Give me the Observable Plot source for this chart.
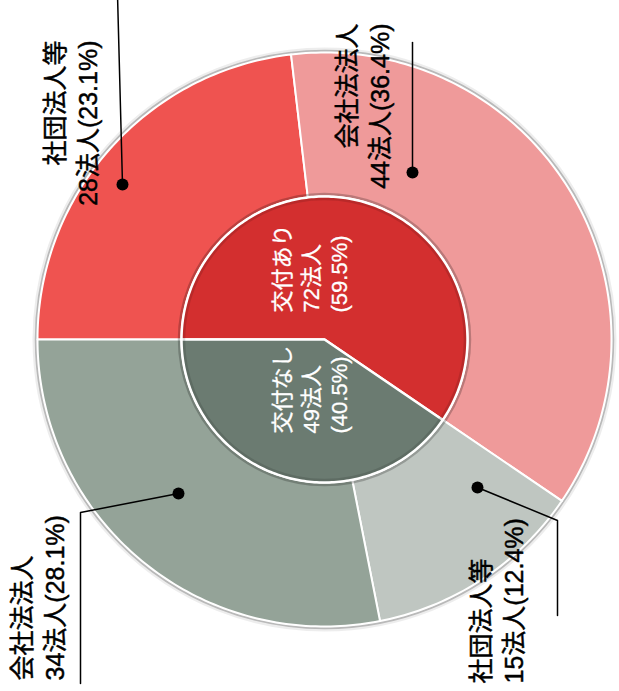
<!DOCTYPE html>
<html>
<head>
<meta charset="utf-8">
<script src="https://cdn.jsdelivr.net/npm/d3@7"></script>
<script src="https://cdn.jsdelivr.net/npm/@observablehq/plot@0.6"></script>
<style>
  html, body { margin: 0; padding: 0; background: #ffffff; }
  #chart svg { display: block; }
</style>
</head>
<body>
<div id="chart"></div>
<script>
// ---------------- data ----------------
const innerNames  = ["交付あり", "交付なし"];
const innerCounts = [72, 49];
const outerNames   = ["社団法人等", "会社法法人", "社団法人等", "会社法法人"];
const outerParents = ["交付あり", "交付あり", "交付なし", "交付なし"];
const outerCounts  = [28, 44, 15, 34];
const unitLabel = "法人";

// ---------------- styles / layout ----------------
const innerColors = ["#d32f2f", "#6b7b71"];
const outerColors = ["#ef5350", "#ef9a9a", "#bfc6c1", "#94a398"];
const R_INNER = 143, R_OUTER = 287;          // radii in chart units (1 unit = 1px)
const FONT = '"Liberation Sans Narrow","Liberation Sans","Noto Sans CJK JP",sans-serif';

const outerLabelLayout = [
  {dot: [-202, 155], path: [[-207, 345]],               text: [-255, 299], anchor: "end"},
  {dot: [88, 167],   path: [[88, 297]],                 text: [37, 316],   anchor: "end"},
  {dot: [153, -148], path: [[233, -181], [233, -276]],  text: [171, -344], anchor: "start"},
  {dot: [-146, -154],path: [[-244, -173], [-244, -344]],text: [-288, -341],anchor: "start"}
];
const innerLabelLayout = [{text: [-15, 27]}, {text: [-15, -94]}];

// ---------------- geometry ----------------
const total = d3.sum(innerCounts);
const pct = v => (v / total * 100).toFixed(1);
function pt(theta, r) {
  const a = theta * Math.PI / 180;
  return [-r * Math.cos(a), r * Math.sin(a)];
}
function wedge(a0, a1, rIn, rOut) {
  const pts = [];
  const n = Math.max(2, Math.ceil(Math.abs(a1 - a0)));
  for (let i = 0; i <= n; i++) {
    const [x, y] = pt(a0 + (a1 - a0) * i / n, rOut);
    pts.push({x, y});
  }
  if (rIn > 0) {
    for (let i = n; i >= 0; i--) {
      const [x, y] = pt(a0 + (a1 - a0) * i / n, rIn);
      pts.push({x, y});
    }
  } else {
    pts.push({x: 0, y: 0});
  }
  return pts;
}
function angles(counts) {
  let c = 0;
  return counts.map(v => { const a0 = 360 * c / total; c += v; return [a0, 360 * c / total]; });
}

const outerWedgeMarks = angles(outerCounts).map(([a0, a1], i) =>
  Plot.line(wedge(a0, a1, R_INNER, R_OUTER), {x: "x", y: "y", fill: outerColors[i], stroke: "#ffffff",
    strokeWidth: 2, curve: "linear-closed", strokeLinejoin: "round"}));
const innerWedgeMarks = angles(innerCounts).map(([a0, a1], i) =>
  Plot.line(wedge(a0, a1, 0, R_INNER), {x: "x", y: "y", fill: innerColors[i], stroke: "#ffffff",
    strokeWidth: 2.5, curve: "linear-closed", strokeLinejoin: "round"}));

const outerLabels = outerNames.map((n, i) => ({
  text: `${n}\n${outerCounts[i]}${unitLabel}(${pct(outerCounts[i])}%)`,
  x: outerLabelLayout[i].text[0], y: outerLabelLayout[i].text[1],
  anchor: outerLabelLayout[i].anchor,
  dx: outerLabelLayout[i].dot[0], dy: outerLabelLayout[i].dot[1]
}));
const innerLabels = innerNames.map((n, i) => ({
  text: `${n}\n${innerCounts[i]}${unitLabel}\n(${pct(innerCounts[i])}%)`,
  x: innerLabelLayout[i].text[0], y: innerLabelLayout[i].text[1]
}));
const leaderPts = outerLabelLayout.flatMap((l, i) =>
  [l.dot, ...l.path].map(([x, y]) => ({id: i, x, y})));

const centre = [{x: 0, y: 0}];
const ring = (r, w, o) => Plot.dot(centre, {x: "x", y: "y", r, fill: "none", stroke: "#000", strokeOpacity: o, strokeWidth: w});

// ---------------- plot ----------------
const chart = Plot.plot({
  width: 619,
  height: 691,
  margin: 0,
  x: {domain: [-324, 295], axis: null},
  y: {domain: [-352, 339], axis: null},
  marks: [
    // soft shadow around the outer ring
    ring(R_OUTER + 3, 4, 0.07),
    ring(R_OUTER + 1.5, 2.5, 0.22),
    ...outerWedgeMarks,
    // shadow around the inner pie
    ring(R_INNER + 2.5, 2.5, 0.22),
    ...innerWedgeMarks,
    ring(R_INNER - 2.5, 2.5, 0.12),
    Plot.line(leaderPts, {x: "x", y: "y", z: "id", stroke: "#000000", strokeWidth: 1.5}),
    Plot.dot(outerLabels, {x: "dx", y: "dy", r: 6, fill: "#000000"}),
    Plot.text(innerLabels, {x: "x", y: "y", text: "text", rotate: -90, textAnchor: "start",
      lineAnchor: "middle", lineHeight: 1.28, fontSize: 22, fill: "#ffffff",
      stroke: "#ffffff", strokeWidth: 0.3, fontFamily: FONT}),
    Plot.text(outerLabels.filter(d => d.anchor === "end"), {x: "x", y: "y", text: "text", rotate: -90,
      textAnchor: "end", lineAnchor: "middle", lineHeight: 1.32, fontSize: 25, fill: "#000000",
      stroke: "#000000", strokeWidth: 0.45, fontFamily: FONT}),
    Plot.text(outerLabels.filter(d => d.anchor === "start"), {x: "x", y: "y", text: "text", rotate: -90,
      textAnchor: "start", lineAnchor: "middle", lineHeight: 1.32, fontSize: 25, fill: "#000000",
      stroke: "#000000", strokeWidth: 0.45, fontFamily: FONT})
  ]
});
document.getElementById("chart").appendChild(chart);
</script>
</body>
</html>
